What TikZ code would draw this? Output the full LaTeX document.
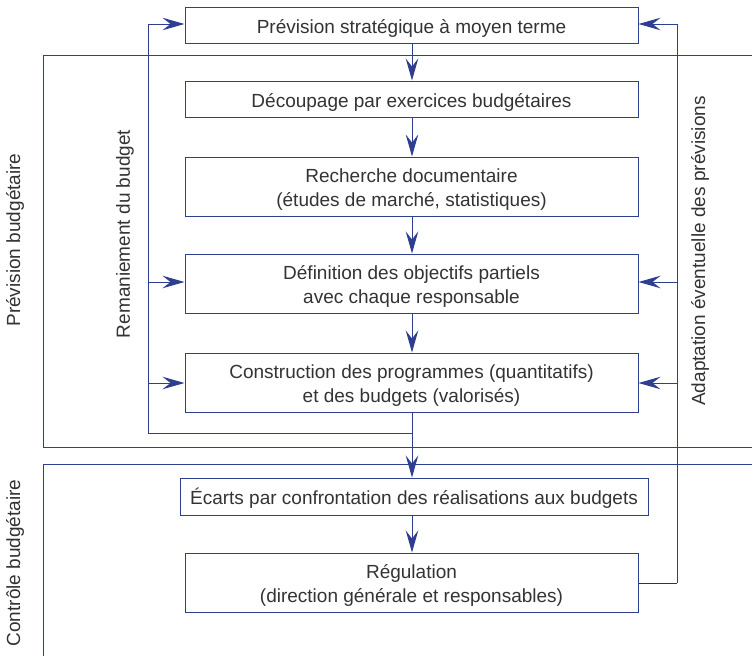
\documentclass[tikz,border=0pt]{standalone}
\usepackage{fontspec}
\setmainfont{Liberation Sans}
\usetikzlibrary{arrows.meta}
\definecolor{lineblue}{HTML}{2E3F8F}
\definecolor{txt}{HTML}{333333}
\newcommand{\bxt}[1]{\raisebox{-8pt}[0pt][0pt]{\begin{tabular}{@{}c@{}}#1\end{tabular}}}
\tikzset{
  box/.style={draw=lineblue, line width=1pt, minimum width=453pt, inner sep=0pt, text=txt, font=\fontsize{19}{24}\selectfont},
  conn/.style={draw=lineblue, line width=1pt},
  arr/.style={conn, -{Stealth[length=22pt,width=12.5pt,inset=8pt]}},
  side/.style={rotate=90, text=txt, font=\fontsize{19}{22}\selectfont, inner sep=0pt},
}
\begin{document}
\begin{tikzpicture}[x=1pt,y=1pt]
\useasboundingbox (0,0) rectangle (752,-656);
% regions
\draw[conn] (752,-55) -- (43,-55) -- (43,-447) -- (752,-447);
\draw[conn] (752,-464) -- (43,-464) -- (43,-656);
% boxes
\node[box, minimum height=36pt] (b1) at (411.5,-25) {\bxt{Prévision stratégique à moyen terme}};
\node[box, minimum height=36pt] (b2) at (411.5,-99) {\bxt{Découpage par exercices budgétaires}};
\node[box, minimum height=59pt] (b3) at (411.5,-186.5) {\bxt{Recherche documentaire\\(études de marché, statistiques)}};
\node[box, minimum height=59pt] (b4) at (411.5,-283.5) {\bxt{Définition des objectifs partiels\\avec chaque responsable}};
\node[box, minimum height=59pt] (b5) at (411.5,-382.5) {\bxt{Construction des programmes (quantitatifs)\\et des budgets (valorisés)}};
\node[box, minimum height=37pt, minimum width=468pt] (b6) at (414,-496.5) {\bxt{Écarts par confrontation des réalisations aux budgets}};
\node[box, minimum height=59pt] (b7) at (411.5,-582.5) {\bxt{Régulation\\(direction générale et responsables)}};
% side labels
\node[side] (l1) at (15,-240) {Prévision budgétaire};
\node[side] (l2) at (15,-563) {Contrôle budgétaire};
\node[side] (l3) at (125,-234) {Remaniement du budget};
\node[side] (l4) at (700,-251) {Adaptation éventuelle des prévisions};
% main flow
\draw[arr] (b1.south -| 412,0) -- (b2.north -| 412,0);
\draw[arr] (b2.south -| 412,0) -- (b3.north -| 412,0);
\draw[arr] (b3.south -| 412,0) -- (b4.north -| 412,0);
\draw[arr] (b4.south -| 412,0) -- (b5.north -| 412,0);
\draw[arr] (b5.south -| 412,0) -- (b6.north -| 412,0);
\draw[arr] (b6.south -| 412,0) -- (b7.north -| 412,0);
% left feedback
\coordinate (lj) at (412,-433);
\coordinate (lc) at (148,-433);
\coordinate (lt) at (148,-24);
\coordinate (l4a) at (148,-282);
\coordinate (l5a) at (148,-383);
\draw[conn] (lj) -- (lc) -- (lt);
\draw[arr] (lt) -- (lt -| b1.west);
\draw[arr] (l4a) -- (l4a -| b4.west);
\draw[arr] (l5a) -- (l5a -| b5.west);
% right feedback
\coordinate (rb) at (677,-583);
\coordinate (rt) at (677,-24);
\coordinate (r4a) at (677,-282);
\coordinate (r5a) at (677,-383);
\draw[conn, draw=txt] (rb -| b7.east) -- (rb);
\draw[conn] (rb) -- (rt);
\draw[arr] (rt) -- (rt -| b1.east);
\draw[arr] (r4a) -- (r4a -| b4.east);
\draw[arr] (r5a) -- (r5a -| b5.east);
\end{tikzpicture}
\end{document}
